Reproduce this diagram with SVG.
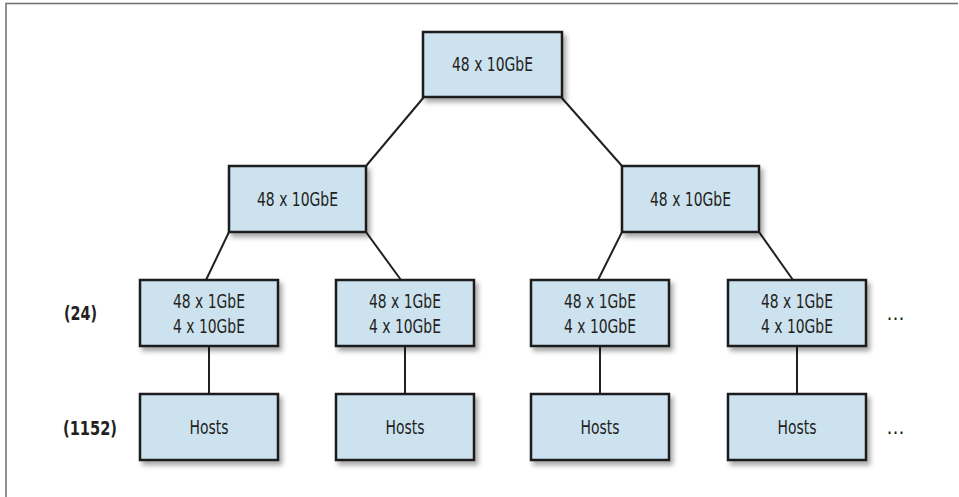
<svg xmlns="http://www.w3.org/2000/svg" width="959" height="497" viewBox="0 0 959 497">
<defs>
<filter id="sh" x="-10%" y="-10%" width="130%" height="140%">
<feDropShadow dx="3" dy="4" stdDeviation="2.5" flood-color="#000" flood-opacity="0.35"/>
</filter>
<style>
.box{fill:#cde2ef;stroke:#1a1a1a;stroke-width:2.5;filter:url(#sh)}
.t{font-family:"DejaVu Sans Condensed","Liberation Sans",sans-serif;font-size:20px;fill:#231f20;text-anchor:middle}
.lbl{font-family:"DejaVu Sans Condensed","Liberation Sans",sans-serif;font-size:20px;font-weight:bold;fill:#231f20;text-anchor:middle}
.ln{stroke:#231f20;stroke-width:2;fill:none}
.frame{stroke:#6d6d6d;stroke-width:1.5;fill:none}
</style>
</defs>
<rect width="959" height="497" fill="#fff"/>
<path class="frame" d="M6,497 V3.5 H958"/>
<g id="connectors">
<line class="ln" x1="424" y1="97" x2="366" y2="166"/>
<line class="ln" x1="561" y1="97" x2="622" y2="166"/>
<line class="ln" x1="229" y1="232" x2="206" y2="280"/>
<line class="ln" x1="366" y1="232" x2="401" y2="280"/>
<line class="ln" x1="622" y1="232" x2="598" y2="280"/>
<line class="ln" x1="759" y1="232" x2="793" y2="280"/>
<line class="ln" x1="209" y1="346" x2="209" y2="394"/>
<line class="ln" x1="405" y1="346" x2="405" y2="394"/>
<line class="ln" x1="600" y1="346" x2="600" y2="394"/>
<line class="ln" x1="797" y1="346" x2="797" y2="394"/>
</g>
<g id="core"><rect class="box" x="423" y="32" width="139" height="65"/><text class="t" x="492.5" y="71" textLength="81" lengthAdjust="spacingAndGlyphs">48 x 10GbE</text></g>
<g id="agg1"><rect class="box" x="229" y="166" width="137" height="66"/><text class="t" x="297.5" y="206" textLength="81" lengthAdjust="spacingAndGlyphs">48 x 10GbE</text></g>
<g id="agg2"><rect class="box" x="622" y="166" width="137" height="66"/><text class="t" x="690.5" y="206" textLength="81" lengthAdjust="spacingAndGlyphs">48 x 10GbE</text></g>
<g id="tor1"><rect class="box" x="140" y="280" width="138" height="66"/><text class="t" x="209" y="308" textLength="72" lengthAdjust="spacingAndGlyphs">48 x 1GbE</text><text class="t" x="209" y="333" textLength="72" lengthAdjust="spacingAndGlyphs">4 x 10GbE</text></g>
<g id="tor2"><rect class="box" x="336" y="280" width="138" height="66"/><text class="t" x="405" y="308" textLength="72" lengthAdjust="spacingAndGlyphs">48 x 1GbE</text><text class="t" x="405" y="333" textLength="72" lengthAdjust="spacingAndGlyphs">4 x 10GbE</text></g>
<g id="tor3"><rect class="box" x="531" y="280" width="138" height="66"/><text class="t" x="600" y="308" textLength="72" lengthAdjust="spacingAndGlyphs">48 x 1GbE</text><text class="t" x="600" y="333" textLength="72" lengthAdjust="spacingAndGlyphs">4 x 10GbE</text></g>
<g id="tor4"><rect class="box" x="728" y="280" width="138" height="66"/><text class="t" x="797" y="308" textLength="72" lengthAdjust="spacingAndGlyphs">48 x 1GbE</text><text class="t" x="797" y="333" textLength="72" lengthAdjust="spacingAndGlyphs">4 x 10GbE</text></g>
<g id="hosts1"><rect class="box" x="140" y="394" width="138" height="66"/><text class="t" x="209" y="434" textLength="39" lengthAdjust="spacingAndGlyphs">Hosts</text></g>
<g id="hosts2"><rect class="box" x="336" y="394" width="138" height="66"/><text class="t" x="405" y="434" textLength="39" lengthAdjust="spacingAndGlyphs">Hosts</text></g>
<g id="hosts3"><rect class="box" x="531" y="394" width="138" height="66"/><text class="t" x="600" y="434" textLength="39" lengthAdjust="spacingAndGlyphs">Hosts</text></g>
<g id="hosts4"><rect class="box" x="728" y="394" width="138" height="66"/><text class="t" x="797" y="434" textLength="39" lengthAdjust="spacingAndGlyphs">Hosts</text></g>
<text class="lbl" x="80.5" y="320" textLength="33" lengthAdjust="spacingAndGlyphs">(24)</text>
<text class="lbl" x="90" y="435" textLength="54" lengthAdjust="spacingAndGlyphs">(1152)</text>
<text class="t" x="895.5" y="320" textLength="21" lengthAdjust="spacing">…</text>
<text class="t" x="895.5" y="434" textLength="21" lengthAdjust="spacing">…</text>
</svg>
